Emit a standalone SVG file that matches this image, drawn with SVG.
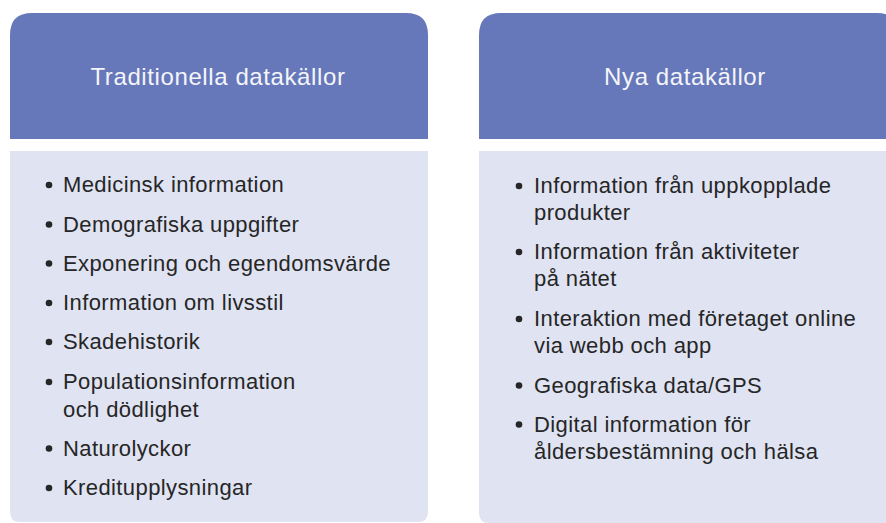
<svg xmlns="http://www.w3.org/2000/svg" width="886" height="523" viewBox="0 0 886 523">
  <style>
    .head { fill: #6678b9; }
    .body { fill: #e0e3f2; }
    .title { font-family: "Liberation Sans", Arial, sans-serif; font-size: 24px; fill: #f4f5fa; text-anchor: middle; letter-spacing: 0.6px; }
    .item { font-family: "Liberation Sans", Arial, sans-serif; font-size: 22px; fill: #262626; letter-spacing: 0.4px; }
    .dot { fill: #262626; }
  </style>
  <rect width="886" height="523" fill="#ffffff"/>

  <!-- Left column: traditional data sources -->
  <g id="traditionella">
    <path class="head" d="M10 139 V35 Q10 13 32 13 H406 Q428 13 428 35 V139 Z"/>
    <text class="title" x="218" y="85">Traditionella datakällor</text>
    <path class="body" d="M10 151 H428 V512 Q428 522 418 522 H20 Q10 522 10 512 Z"/>
    <g>
      <circle class="dot" cx="49" cy="185" r="3.3"/>
      <text class="item" x="63" y="192">Medicinsk information</text>
      <circle class="dot" cx="49" cy="224.5" r="3.3"/>
      <text class="item" x="63" y="231.5">Demografiska uppgifter</text>
      <circle class="dot" cx="49" cy="263.5" r="3.3"/>
      <text class="item" x="63" y="270.5">Exponering och egendomsvärde</text>
      <circle class="dot" cx="49" cy="303" r="3.3"/>
      <text class="item" x="63" y="310">Information om livsstil</text>
      <circle class="dot" cx="49" cy="342" r="3.3"/>
      <text class="item" x="63" y="349">Skadehistorik</text>
      <circle class="dot" cx="49" cy="382" r="3.3"/>
      <text class="item" x="63" y="389">Populationsinformation</text>
      <text class="item" x="63" y="416.5">och dödlighet</text>
      <circle class="dot" cx="49" cy="448.5" r="3.3"/>
      <text class="item" x="63" y="455.5">Naturolyckor</text>
      <circle class="dot" cx="49" cy="488" r="3.3"/>
      <text class="item" x="63" y="495">Kreditupplysningar</text>
    </g>
  </g>

  <!-- Right column: new data sources -->
  <g id="nya">
    <path class="head" d="M479 139 V35 Q479 13 501 13 H877 Q899 13 899 35 V139 Z"/>
    <text class="title" x="685" y="85">Nya datakällor</text>
    <path class="body" d="M479 151 H899 V523 H489 Q479 523 479 513 Z"/>
    <g>
      <circle class="dot" cx="519" cy="186" r="3.3"/>
      <text class="item" x="534" y="193">Information från uppkopplade</text>
      <text class="item" x="534" y="220">produkter</text>
      <circle class="dot" cx="519" cy="252" r="3.3"/>
      <text class="item" x="534" y="259">Information från aktiviteter</text>
      <text class="item" x="534" y="286">på nätet</text>
      <circle class="dot" cx="519" cy="319" r="3.3"/>
      <text class="item" x="534" y="326">Interaktion med företaget online</text>
      <text class="item" x="534" y="353">via webb och app</text>
      <circle class="dot" cx="519" cy="385.5" r="3.3"/>
      <text class="item" x="534" y="392.5">Geografiska data/GPS</text>
      <circle class="dot" cx="519" cy="424.5" r="3.3"/>
      <text class="item" x="534" y="431.5">Digital information för</text>
      <text class="item" x="534" y="458.5">åldersbestämning och hälsa</text>
    </g>
  </g>
</svg>
